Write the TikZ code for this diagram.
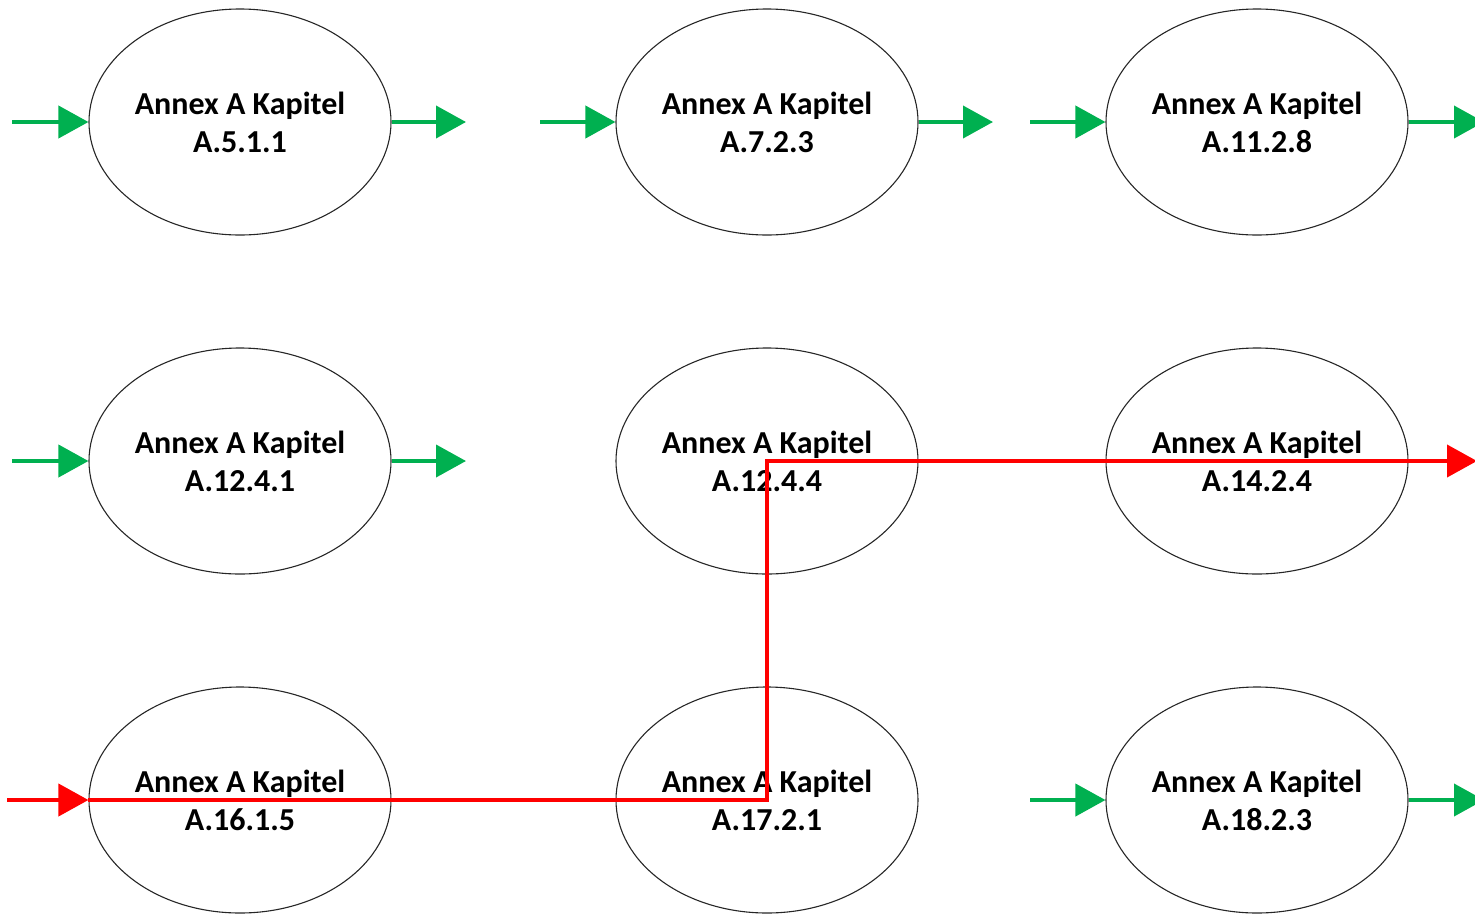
\documentclass[tikz,border=0pt]{standalone}
\usepackage{fontspec}
\setmainfont{Carlito}
\usetikzlibrary{arrows.meta,shapes.geometric}
\definecolor{flowgreen}{RGB}{0,176,80}
\definecolor{pathred}{RGB}{255,0,0}
\begin{document}
\begin{tikzpicture}[x=1pt,y=-1pt,
  chapter/.style={ellipse, draw=black!85, line width=1.1pt, minimum width=302pt, minimum height=226pt, inner sep=0pt,
    font=\bfseries\fontsize{32}{38}\selectfont, align=center, text=black},
  flow/.style={draw=flowgreen, line width=4pt, -{Triangle[length=30pt,width=32pt]}},
  trace/.style={draw=pathred, line width=4pt},
  tracearrow/.style={trace, -{Triangle[length=30pt,width=32pt]}}]
\useasboundingbox (0,0) rectangle (1475,914);

% chapter nodes
\node[chapter] (c511)  at (240,122) {Annex A Kapitel\\A.5.1.1};
\node[chapter] (c723)  at (767,122) {Annex A Kapitel\\A.7.2.3};
\node[chapter] (c1128) at (1257,122) {Annex A Kapitel\\A.11.2.8};
\node[chapter] (c1241) at (240,461) {Annex A Kapitel\\A.12.4.1};
\node[chapter] (c1244) at (767,461) {Annex A Kapitel\\A.12.4.4};
\node[chapter] (c1424) at (1257,461) {Annex A Kapitel\\A.14.2.4};
\node[chapter] (c1615) at (240,800) {Annex A Kapitel\\A.16.1.5};
\node[chapter] (c1721) at (767,800) {Annex A Kapitel\\A.17.2.1};
\node[chapter] (c1823) at (1257,800) {Annex A Kapitel\\A.18.2.3};

% free ends of the flow arrows
\coordinate (in511)  at (12,122);
\coordinate (out511) at (466,122);
\coordinate (in723)  at (540,122);
\coordinate (out723) at (993,122);
\coordinate (in1128) at (1030,122);
\coordinate (out1128) at (1484,122);
\coordinate (in1241) at (12,461);
\coordinate (out1241) at (466,461);
\coordinate (in1823) at (1030,800);
\coordinate (out1823) at (1484,800);
\coordinate (trstart) at (7,800);
\coordinate (trend)   at (1477,461);

% green flow arrows
\draw[flow] (in511) -- (c511.west);
\draw[flow] (c511.east) -- (out511);
\draw[flow] (in723) -- (c723.west);
\draw[flow] (c723.east) -- (out723);
\draw[flow] (in1128) -- (c1128.west);
\draw[flow] (c1128.east) -- (out1128);
\draw[flow] (in1241) -- (c1241.west);
\draw[flow] (c1241.east) -- (out1241);
\draw[flow] (in1823) -- (c1823.west);
\draw[flow] (c1823.east) -- (out1823);

% red trace path
\draw[tracearrow] (trstart) -- (c1615.west);
\draw[trace, line join=miter] (c1615.west) -- (c1721.center) -- (c1244.center) -- (c1424.west);
\draw[tracearrow] (c1424.west) -- (trend);
\end{tikzpicture}
\end{document}
